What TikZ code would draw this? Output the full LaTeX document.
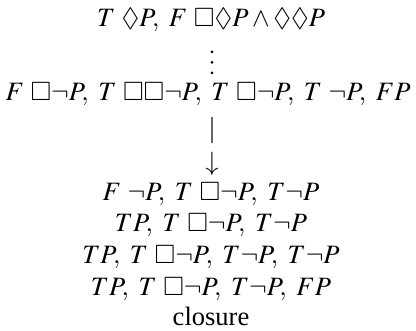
\documentclass[tikz,border=0pt]{standalone}
\usepackage{amssymb}
\usepackage{mathptmx}
\usepackage{fontspec}
\setmainfont{Liberation Serif}
\let\Box\square
\begin{document}
\begin{tikzpicture}[x=1pt,y=-1pt,
  line/.style={anchor=base,inner sep=0pt,font=\fontsize{26.5}{32}\selectfont},
  dot/.style={circle,fill=black,inner sep=0pt,minimum size=3pt}]
\useasboundingbox (0,0) rectangle (416,331);
\node[line] (l1) at (211,27) {$T\ \Diamond P,\ F\ \Box\Diamond P\wedge\Diamond\Diamond P$};
\node[dot] (d1) at (212,52) {};
\node[dot] (d2) at (212,62.5) {};
\node[dot] (d3) at (212,73) {};
\node[line] (l3) at (208,101) {$F\ \Box\neg P,\ T\ \Box\Box\neg P,\ T\ \Box\neg P,\ T\ \neg P,\ FP$};
\coordinate (vtop) at (212,117);
\coordinate (vbot) at (212,143);
\draw[gray!80!black,line width=1.2pt] (vtop) -- (vbot);
\node[line] (arr) at (212,171) {$\downarrow$};
\node[line] (l4) at (211,201) {$F\ \neg P,\ T\ \Box\neg P,\ T\neg P$};
\node[line] (l5) at (211,232) {$TP,\ T\ \Box\neg P,\ T\neg P$};
\node[line] (l6) at (211,264) {$TP,\ T\ \Box\neg P,\ T\neg P,\ T\neg P$};
\node[line] (l7) at (211,296) {$TP,\ T\ \Box\neg P,\ T\neg P,\ FP$};
\node[line] (cl) at (211,326) {closure};
\end{tikzpicture}
\end{document}
